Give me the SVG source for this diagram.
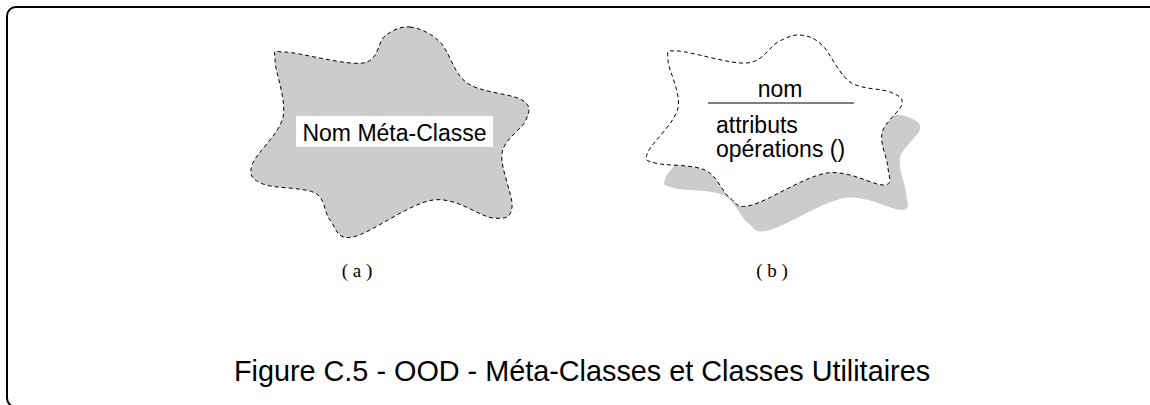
<svg xmlns="http://www.w3.org/2000/svg" width="1150" height="405" viewBox="0 0 1150 405">
<style>
.lbl{font-family:"Liberation Sans",Arial,sans-serif;font-size:23px;fill:#000}
.cap{font-family:"Liberation Serif","Times New Roman",serif;font-size:19px;fill:#000}
</style>
<rect width="1150" height="405" fill="#fff"/>
<rect x="7" y="7" width="1200" height="400" rx="9" fill="none" stroke="#000" stroke-width="2"/>
<defs>
<path id="blobB" d="M 800,35 C 807.3,35.5 813.7,37.2 822,45 C 830.3,52.8 838.7,74.2 850,82 C 861.3,89.8 881.3,88.3 890,92 C 898.7,95.7 903.3,97.2 902,104 C 900.7,110.8 884.3,122.3 882,133 C 879.7,143.7 887.7,159.3 888,168 C 888.3,176.7 894.2,184.2 884,185 C 873.8,185.8 849,169.7 827,173 C 805,176.3 768.2,200.8 752,205 C 735.8,209.2 737.8,203.8 730,198 C 722.2,192.2 717.5,175.8 705,170 C 692.5,164.2 664.5,166 655,163 C 645.5,160 644.2,161.2 648,152 C 651.8,142.8 674.7,123.3 678,108 C 681.3,92.7 668,69.5 668,60 C 668,50.5 664.8,50.5 678,51 C 691.2,51.5 730.3,64.5 747,63 C 763.7,61.5 769.2,46.7 778,42 C 786.8,37.3 792.7,34.5 800,35 Z"/>
</defs>
<g id="node-a">
<path d="M 410,27 C 419.2,28 430.5,32.7 440,42 C 449.5,51.3 453.3,73.3 467,83 C 480.7,92.7 512.2,93.8 522,100 C 531.8,106.2 529.3,111.2 526,120 C 522.7,128.8 504.3,138.5 502,153 C 499.7,167.5 513.5,196.2 512,207 C 510.5,217.8 506.2,219.2 493,218 C 479.8,216.8 456.3,196.8 433,200 C 409.7,203.2 370.2,233.7 353,237 C 335.8,240.3 336.3,227.3 330,220 C 323.7,212.7 326.2,199 315,193 C 303.8,187 273.5,188.7 263,184 C 252.5,179.3 248.7,176.2 252,165 C 255.3,153.8 279.2,134.5 283,117 C 286.8,99.5 274.7,70.8 275,60 C 275.3,49.2 270.3,51.5 285,52 C 299.7,52.5 346.3,65.7 363,63 C 379.7,60.3 377.2,42 385,36 C 392.8,30 400.8,26 410,27 Z" fill="#cccccc" stroke="#000" stroke-width="1" stroke-dasharray="4,3"/>
<rect x="296" y="116" width="197" height="31" fill="#fff"/>
<text class="lbl" x="394.5" y="140.5" text-anchor="middle">Nom Méta-Classe</text>
</g>
<g id="node-b">
<use href="#blobB" transform="translate(18,25)" fill="#cccccc"/>
<use href="#blobB" fill="#fff" stroke="#000" stroke-width="1" stroke-dasharray="4,3"/>
<text class="lbl" x="780" y="96.5" text-anchor="middle">nom</text>
<line x1="708" y1="103" x2="854" y2="103" stroke="#000" stroke-width="1"/>
<text class="lbl" x="716" y="133">attributs</text>
<text class="lbl" x="716" y="157">opérations ()</text>
</g>
<g id="connectors"/>
<text class="cap" x="357" y="277" text-anchor="middle">( a )</text>
<text class="cap" x="772" y="277" text-anchor="middle">( b )</text>
<text x="582" y="381" text-anchor="middle" font-family="Liberation Sans, Arial, sans-serif" font-size="28.8" fill="#000">Figure C.5 - OOD - Méta-Classes et Classes Utilitaires</text>
</svg>
